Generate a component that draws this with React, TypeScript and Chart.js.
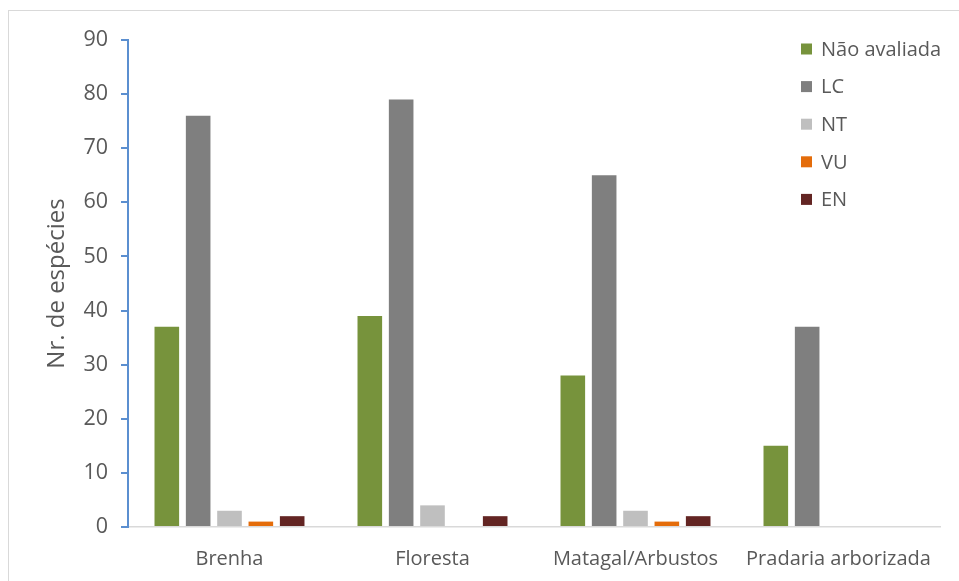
import React, { useEffect, useRef } from "react";
import { Chart, registerables } from "chart.js";

Chart.register(...registerables);

const categories = ["Brenha", "Floresta", "Matagal/Arbustos", "Pradaria arborizada"];
const seriesLabels = ["Não avaliada", "LC", "NT", "VU", "EN"];
const naoAvaliada = [37, 39, 28, 15];
const lc = [76, 79, 65, 37];
const nt = [3, 4, 3, 0];
const vu = [1, 0, 1, 0];
const en = [2, 2, 2, 0];
const seriesColors = ["#77933C", "#7F7F7F", "#BFBFBF", "#E46C0A", "#632523"];
const yTicks = [0, 10, 20, 30, 40, 50, 60, 70, 80, 90];
const yTitle = "Nr. de espécies";

const FONT = "'Open Sans', 'Noto Sans', sans-serif";
const TEXT = "#595959";

const legendPlugin = {
  id: "innerLegend",
  afterDraw(chart: any) {
    const ctx = chart.ctx;
    ctx.save();
    ctx.font = `20px ${FONT}`;
    ctx.textBaseline = "middle";
    ctx.textAlign = "left";
    chart.data.datasets.forEach((ds: any, i: number) => {
      const cy = 49 + i * 37.6;
      ctx.fillStyle = ds.backgroundColor;
      ctx.fillRect(801, cy - 5.5, 11, 11);
      ctx.fillStyle = TEXT;
      ctx.fillText(ds.label, 821, cy + 1);
    });
    ctx.restore();
  },
};

export default function App() {
  const ref = useRef<HTMLCanvasElement>(null);
  useEffect(() => {
    const values = [naoAvaliada, lc, nt, vu, en];
    const chart = new Chart(ref.current!, {
      type: "bar",
      data: {
        labels: categories,
        datasets: seriesLabels.map((label, i) => ({
          label,
          data: values[i],
          backgroundColor: seriesColors[i],
          borderWidth: 0,
          categoryPercentage: 0.772,
          barPercentage: 0.785,
        })),
      },
      options: {
        animation: false,
        responsive: false,
        maintainAspectRatio: false,
        layout: { padding: { left: 0, top: 40, right: 19, bottom: 0 } },
        plugins: { legend: { display: false }, tooltip: { enabled: false } },
        scales: {
          x: {
            grid: { display: false },
            border: { color: "#D9D9D9", width: 1.5 },
            ticks: { color: TEXT, font: { family: FONT, size: 20 }, padding: 12 },
            afterFit: (s: any) => {
              s.height = 54;
            },
          },
          y: {
            min: 0,
            max: 90,
            afterBuildTicks: (s: any) => {
              s.ticks = yTicks.map((v) => ({ value: v }));
            },
            grid: {
              drawOnChartArea: false,
              drawTicks: true,
              tickLength: 7,
              color: "#5B8FD0",
              lineWidth: 2,
            },
            border: { color: "#5B8FD0", width: 2 },
            ticks: { color: TEXT, font: { family: FONT, size: 21.5 }, padding: 13 },
            title: {
              display: true,
              text: yTitle,
              color: TEXT,
              font: { family: FONT, size: 24 },
              padding: { top: 43, bottom: 0 },
            },
            afterFit: (s: any) => {
              s.width = 128;
            },
          },
        },
      },
      plugins: [legendPlugin],
    });
    return () => chart.destroy();
  }, []);

  return (
    <div style={{ position: "fixed", left: 0, top: 0, width: 959, height: 581, overflow: "hidden", background: "#fff" }}>
      <div
        style={{
          position: "absolute",
          left: 8,
          top: 10,
          width: 1000,
          height: 700,
          borderLeft: "1.5px solid #D9D9D9",
          borderTop: "1.5px solid #D9D9D9",
        }}
      />
      <canvas ref={ref} width={959} height={581} style={{ position: "absolute", left: 0, top: 0, width: 959, height: 581 }} />
    </div>
  );
}
